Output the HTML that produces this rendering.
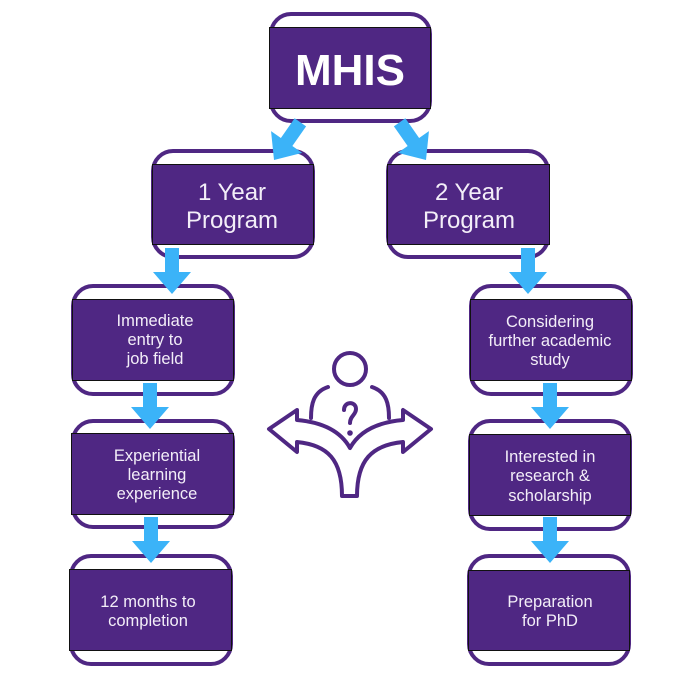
<!DOCTYPE html>
<html><head><meta charset="utf-8"><style>
html,body{margin:0;padding:0;background:#fff;}
svg{display:block;}
text{font-family:"Liberation Sans","DejaVu Sans",sans-serif;fill:#f3eef8;text-anchor:middle;}
</style></head><body>
<svg width="700" height="700" viewBox="0 0 700 700" xmlns="http://www.w3.org/2000/svg">
<defs>
<polygon id="ar" points="0,0 -19,-22 -7,-22 -7,-46 7,-46 7,-22 19,-22" fill="#3bb3f8"/>
</defs>
<g fill="none" stroke="#4f2783" stroke-width="4">
<rect x="271" y="14" width="159" height="107" rx="20"/>
<rect x="153" y="151" width="160" height="106" rx="20"/>
<rect x="388" y="151" width="160" height="106" rx="20"/>
<rect x="73" y="286" width="160" height="108" rx="20"/>
<rect x="73" y="421" width="160" height="106" rx="20"/>
<rect x="71" y="556" width="160" height="108" rx="20"/>
<rect x="471" y="286" width="160" height="108" rx="20"/>
<rect x="470" y="421" width="160" height="108" rx="20"/>
<rect x="469" y="556" width="160" height="108" rx="20"/>
</g>
<g fill="#4f2783" stroke="#111" stroke-width="1">
<rect x="269.5" y="27.5" width="161" height="81"/>
<rect x="152.5" y="164.5" width="161" height="80"/>
<rect x="387.5" y="164.5" width="162" height="80"/>
<rect x="72.5" y="299.5" width="161" height="81"/>
<rect x="71.5" y="433.5" width="162" height="81"/>
<rect x="69.5" y="569.5" width="162" height="81"/>
<rect x="470.5" y="299.5" width="161" height="81"/>
<rect x="469.5" y="434.5" width="161" height="81"/>
<rect x="468.5" y="570.5" width="161" height="80"/>
</g>
<use href="#ar" transform="translate(274,160) rotate(35)"/>
<use href="#ar" transform="translate(426,160) rotate(-35)"/>
<use href="#ar" transform="translate(172,294)"/>
<use href="#ar" transform="translate(150,429)"/>
<use href="#ar" transform="translate(151,563)"/>
<use href="#ar" transform="translate(528,294)"/>
<use href="#ar" transform="translate(550,429)"/>
<use href="#ar" transform="translate(550,563)"/>
<text x="350" y="85" style="font-weight:bold;font-size:44px;fill:#fff">MHIS</text>
<text x="232" y="200" style="font-size:24px">1 Year</text>
<text x="232" y="228" style="font-size:24px">Program</text>
<text x="469" y="200" style="font-size:24px">2 Year</text>
<text x="469" y="228" style="font-size:24px">Program</text>
<g style="font-size:16.5px">
<text x="155" y="326">Immediate</text><text x="155" y="345">entry to</text><text x="155" y="364">job field</text>
<text x="157" y="461">Experiential</text><text x="157" y="480">learning</text><text x="157" y="499">experience</text>
<text x="148" y="607">12 months to</text><text x="148" y="626">completion</text>
<text x="550" y="327">Considering</text><text x="550" y="346">further academic</text><text x="550" y="365">study</text>
<text x="550" y="462">Interested in</text><text x="550" y="481">research &amp;</text><text x="550" y="501">scholarship</text>
<text x="550" y="607">Preparation</text><text x="550" y="626">for PhD</text>
</g>
<g fill="none" stroke="#4f2783" stroke-width="4" stroke-linejoin="round" stroke-linecap="round">
<circle cx="350" cy="369" r="16"/>
<path d="M328,387 C313,392 311,405 311,418"/>
<path d="M372,387 C387,392 389,405 389,418"/>
<path d="M342,496 L357,496 C357,460 372,445 403,442 L403,452 L431,429 L403,410 L403,420 C380,422 360,430 350,448 C340,430 320,422 297,420 L297,410 L269,429 L297,452 L297,442 C328,445 342,460 342,496 Z"/>
<path d="M344,410 C344,401 356,401 356,409 C356,415 350,416 350,423"/>
</g>
<circle cx="350" cy="433" r="2.8" fill="#4f2783"/>
</svg>
</body></html>
